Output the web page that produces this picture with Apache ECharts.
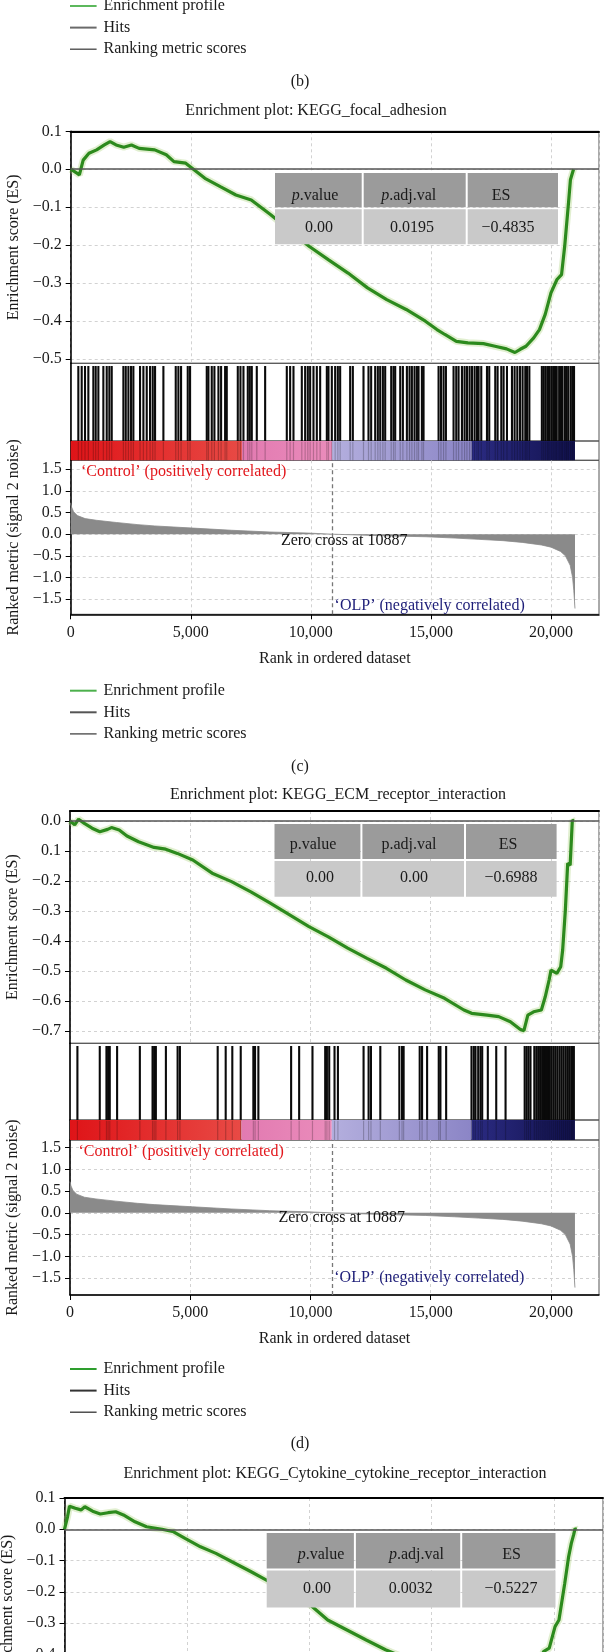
<!DOCTYPE html>
<html><head><meta charset="utf-8">
<script src="https://cdn.jsdelivr.net/npm/echarts@6/dist/echarts.min.js"></script>
<style>html,body{margin:0;padding:0;background:#fff}#c{width:606px;height:1652px}</style>
</head><body><div id="c"></div>
<script>
// ================= DATA =================
const rankTicks = [0, 5000, 10000, 15000, 20000];
const rankTickLabels = ['0', '5,000', '10,000', '15,000', '20,000'];
const metricTicks = [1.5, 1.0, 0.5, 0.0, -0.5, -1.0, -1.5];
const metricTickLabels = ['1.5', '1.0', '0.5', '0.0', '−0.5', '−1.0', '−1.5'];
const esTicksC = [0.1, 0.0, -0.1, -0.2, -0.3, -0.4, -0.5];
const esTickLabelsC = ['0.1', '0.0', '−0.1', '−0.2', '−0.3', '−0.4', '−0.5'];
const esTicksD = [0.0, -0.1, -0.2, -0.3, -0.4, -0.5, -0.6, -0.7];
const esTickLabelsD = ['0.0', '0.1', '−0.2', '−0.3', '−0.4', '−0.5', '−0.6', '−0.7'];
const esTicksE = [0.1, 0.0, -0.1, -0.2, -0.3, -0.4];
const esTickLabelsE = ['0.1', '0.0', '−0.1', '−0.2', '−0.3', '−0.4'];

const titleC = 'Enrichment plot: KEGG_focal_adhesion';
const titleD = 'Enrichment plot: KEGG_ECM_receptor_interaction';
const titleE = 'Enrichment plot: KEGG_Cytokine_cytokine_receptor_interaction';
const legendNames = ['Enrichment profile', 'Hits', 'Ranking metric scores'];
const statsHeaders = ['p.value', 'p.adj.val', 'ES'];
const statsC = ['0.00', '0.0195', '−0.4835'];
const statsD = ['0.00', '0.00', '−0.6988'];
const statsE = ['0.00', '0.0032', '−0.5227'];
const zeroCross = 10887;

// ranked list metric (signal 2 noise), shared by panels
const metricRanks = [0, 40, 120, 275, 600, 1080, 1900, 2800, 3500, 5100, 6700, 8300, 9900, 10887, 12000, 13200, 14800, 16000, 17000, 18000, 18800, 19600, 20000, 20400, 20600, 20800, 20900, 20950, 20980, 21000];
const metricValues = [0.72, 0.62, 0.52, 0.43, 0.36, 0.32, 0.27, 0.22, 0.19, 0.14, 0.09, 0.05, 0.025, 0, -0.02, -0.04, -0.06, -0.09, -0.12, -0.15, -0.19, -0.25, -0.3, -0.4, -0.5, -0.72, -1.0, -1.3, -1.55, -1.72];

// colour bar bands (rank ranges)
const bandStarts = [0, 7130, 10887, 16700];
const bandEnds = [7130, 10887, 16700, 21000];

// panel (c) focal adhesion
const esRanksC = [0, 275, 360, 520, 760, 1080, 1400, 1640, 1890, 2210, 2530, 2850, 3500, 3980, 4300, 4790, 5110, 5590, 6230, 6880, 7520, 8330, 9940, 10740, 11550, 12360, 13160, 13970, 14770, 15250, 15580, 16060, 16540, 17190, 17670, 18150, 18500, 18720, 18960, 19280, 19520, 19760, 20000, 20250, 20440, 20570, 20730, 20810, 20890, 20940];
const esValuesC = [0, -0.011, -0.015, 0.024, 0.042, 0.051, 0.064, 0.073, 0.064, 0.058, 0.064, 0.055, 0.051, 0.038, 0.020, 0.016, 0.0, -0.024, -0.046, -0.068, -0.081, -0.12, -0.204, -0.239, -0.274, -0.313, -0.344, -0.370, -0.401, -0.423, -0.436, -0.454, -0.458, -0.46, -0.467, -0.474, -0.4835, -0.475, -0.467, -0.445, -0.423, -0.383, -0.326, -0.291, -0.278, -0.204, -0.089, -0.028, -0.028, 0.0];
const hitsC = [318, 458, 596, 735, 943, 1041, 1152, 1360, 1500, 1610, 1708, 2194, 2292, 2403, 2513, 2610, 2888, 3027, 3166, 3305, 3416, 3513, 3860, 4374, 4485, 4596, 4874, 4971, 5666, 5735, 5874, 5985, 6152, 6263, 6430, 6499, 6958, 7069, 7194, 7374, 7458, 7541, 7749, 8097, 8999, 9138, 9277, 9624, 9763, 9874, 9971, 10110, 10249, 10388, 10666, 10735, 10874, 11013, 11124, 11221, 11638, 11749, 12193, 12401, 12512, 12680, 12790, 12888, 13000, 13096, 13347, 13443, 13513, 13722, 13833, 14000, 14110, 14208, 14318, 14417, 14485, 14625, 14694, 15319, 15419, 15527, 15625, 15943, 16055, 16152, 16292, 16402, 16500, 16610, 16709, 16819, 16918, 16986, 17097, 17335, 17430, 17680, 17777, 17931, 18027, 18168, 18376, 18485, 18598, 18710, 18818, 18930, 19000, 19100, 19620, 19700, 19780, 19860, 19920, 20010, 20090, 20170, 20240, 20340, 20420, 20480, 20580, 20650, 20720, 20820, 20890, 20960];

// panel (d) ECM receptor interaction
const esRanksD = [0, 195, 356, 597, 919, 1242, 1564, 1725, 2047, 2369, 2852, 3496, 3980, 4463, 5107, 5912, 6718, 7523, 8328, 9134, 9939, 10744, 11549, 12355, 13160, 13965, 14771, 15576, 16381, 16703, 17348, 17831, 18314, 18717, 18878, 19040, 19281, 19603, 19764, 19925, 20005, 20247, 20408, 20489, 20601, 20698, 20800, 20860, 20891, 20950];
const esValuesD = [0, -0.013, 0.006, -0.008, -0.024, -0.036, -0.028, -0.022, -0.03, -0.05, -0.069, -0.088, -0.094, -0.108, -0.13, -0.174, -0.202, -0.236, -0.274, -0.313, -0.352, -0.386, -0.424, -0.458, -0.491, -0.53, -0.563, -0.591, -0.63, -0.641, -0.647, -0.652, -0.669, -0.694, -0.6988, -0.647, -0.636, -0.63, -0.586, -0.53, -0.497, -0.508, -0.486, -0.43, -0.297, -0.141, -0.147, -0.147, 0.003, 0.0];
const hitsD = [308, 1238, 1516, 1585, 1654, 1959, 2905, 3433, 3500, 3571, 3988, 4475, 4571, 6142, 6475, 6750, 7100, 7625, 7696, 7834, 9196, 9530, 10084, 10613, 10684, 10780, 11001, 11142, 12209, 12418, 12517, 12905, 13697, 13809, 13875, 14543, 14642, 14851, 15335, 15405, 15643, 16697, 16793, 16864, 16976, 17072, 17143, 17376, 17726, 18114, 18909, 18989, 19068, 19151, 19310, 19393, 19472, 19551, 19634, 19714, 19793, 19877, 19956, 20035, 20118, 20197, 20276, 20360, 20439, 20518, 20601, 20680, 20759, 20843, 20889, 20955];

// panel (e) cytokine-cytokine receptor interaction (partly visible)
const esRanksE = [0, 124, 204, 440, 675, 831, 1148, 1463, 1777, 2092, 2407, 2880, 3352, 3984, 4456, 4926, 5556, 6187, 6819, 7605, 8232, 10045, 10753, 11540, 12326, 13116, 14500, 16000, 17500, 18700, 19300, 19568, 19804, 20041, 20200, 20436, 20595, 20705, 20799, 20861, 20900];
const esValuesE = [0, 0.04, 0.074, 0.067, 0.062, 0.072, 0.058, 0.049, 0.053, 0.056, 0.046, 0.024, 0.008, 0.0, -0.008, -0.029, -0.056, -0.077, -0.103, -0.135, -0.162, -0.242, -0.29, -0.322, -0.354, -0.385, -0.43, -0.47, -0.5, -0.5227, -0.46, -0.391, -0.38, -0.311, -0.29, -0.173, -0.088, -0.045, -0.018, 0.003, 0.0];

// ================= CHART =================
const FONT = "'Liberation Serif','DejaVu Serif',serif";
const TXT = '#1a1a1a';
const GRIDC = '#d2d2d2';
const zip = (a, b) => a.slice(0, Math.min(a.length, b.length)).map((x, i) => [x, b[i]]);
const lab = (ticks, labels) => v => { for (let i = 0; i < ticks.length; i++) if (Math.abs(v - ticks[i]) < 1e-6) return labels[i]; return ''; };

const LEFT = 70.7, RIGHT = 7;
function mkGrid(top, height, left, right) {
  return { left: left, right: right, top: top, height: height, show: true, borderColor: '#555', borderWidth: 1,
    backgroundColor: 'transparent', containLabel: false, outerBoundsMode: 'none' };
}
const grids = [
  mkGrid(131.3, 232, LEFT, RIGHT),   // 0 c ES
  mkGrid(363.3, 77.7, LEFT, RIGHT),  // 1 c hits
  mkGrid(441, 19.3, LEFT, RIGHT),    // 2 c bar
  mkGrid(460.3, 154, LEFT, RIGHT),   // 3 c ranked
  mkGrid(811, 232.3, 70, RIGHT),     // 4 d ES
  mkGrid(1043.3, 76.7, 70, RIGHT),   // 5 d hits
  mkGrid(1120, 20, 70, RIGHT),       // 6 d bar
  mkGrid(1140, 155, 70, RIGHT),      // 7 d ranked
  mkGrid(1498, 219, 64.5, 3)         // 8 e ES
];

const nameStyle = { fontSize: 16, fontFamily: FONT, color: TXT };
const labStyle = { fontSize: 16, fontFamily: FONT, color: TXT };
const dashed = { show: true, lineStyle: { color: GRIDC, type: [3, 3], width: 1 } };

function xTop(gi) {
  return { type: 'value', gridIndex: gi, min: 0, max: 22000, interval: 5000, position: 'top',
    axisLine: { show: true, onZero: false, lineStyle: { color: '#000', width: 2 } }, axisTick: { show: false }, axisLabel: { show: false }, splitLine: dashed };
}
function xPlain(gi) {
  return { type: 'value', gridIndex: gi, min: 0, max: 22000, interval: 5000,
    axisLine: { show: false, onZero: false }, axisTick: { show: false }, axisLabel: { show: false }, splitLine: { show: false } };
}
function xRank(gi) {
  return { type: 'value', gridIndex: gi, min: 0, max: 22000, interval: 5000, position: 'bottom',
    axisLine: { show: true, onZero: false, lineStyle: { color: '#000', width: 1.5 } },
    axisTick: { show: true, length: 5, customValues: rankTicks, lineStyle: { color: '#000' } },
    axisLabel: Object.assign({ show: true, margin: 10, customValues: rankTicks, formatter: lab(rankTicks, rankTickLabels) }, labStyle),
    splitLine: dashed,
    name: 'Rank in ordered dataset', nameLocation: 'middle', nameGap: 36, nameTextStyle: nameStyle };
}
function yEs(gi, min, max, ticks, labels) {
  return { type: 'value', gridIndex: gi, min: min, max: max, minInterval: 0.1, maxInterval: 0.1,
    axisLine: { show: true, onZero: false, lineStyle: { color: '#000', width: 1.5 } },
    axisTick: { show: true, length: 5, customValues: ticks, lineStyle: { color: '#000' } },
    axisLabel: Object.assign({ show: true, margin: 9, customValues: ticks, formatter: lab(ticks, labels), showMinLabel: true, showMaxLabel: true }, labStyle),
    splitLine: dashed,
    name: 'Enrichment score (ES)', nameLocation: 'middle', nameGap: 48, nameTextStyle: nameStyle };
}
function yPlain(gi) {
  return { type: 'value', gridIndex: gi, min: 0, max: 1,
    axisLine: { show: true, onZero: false, lineStyle: { color: '#000', width: 1.5 } }, axisTick: { show: false }, axisLabel: { show: false }, splitLine: { show: false } };
}
function yRank(gi, min, max) {
  return { type: 'value', gridIndex: gi, min: min, max: max, minInterval: 0.5, maxInterval: 0.5,
    axisLine: { show: true, onZero: false, lineStyle: { color: '#000', width: 1.5 } },
    axisTick: { show: true, length: 5, customValues: metricTicks, lineStyle: { color: '#000' } },
    axisLabel: Object.assign({ show: true, margin: 9, customValues: metricTicks, formatter: lab(metricTicks, metricTickLabels) }, labStyle),
    splitLine: dashed,
    name: 'Ranked metric (signal 2 noise)', nameLocation: 'middle', nameGap: 48, nameTextStyle: nameStyle };
}

const xAxes = [xTop(0), xPlain(1), xPlain(2), xRank(3), xTop(4), xPlain(5), xPlain(6), xRank(7), xTop(8)];
const yAxes = [
  yEs(0, -0.512, 0.1, esTicksC, esTickLabelsC), yPlain(1), yPlain(2), yRank(3, -1.853, 1.708),
  yEs(4, -0.741, 0.0333, esTicksD, esTickLabelsD), yPlain(5), yPlain(6), yRank(7, -1.89, 1.677),
  yEs(8, -0.6, 0.1, esTicksE, esTickLabelsE)
];

const bandFills = [
  new echarts.graphic.LinearGradient(0, 0, 1, 0, [{ offset: 0, color: '#df1418' }, { offset: 1, color: '#e84a45' }]),
  new echarts.graphic.LinearGradient(0, 0, 1, 0, [{ offset: 0, color: '#e27ab1' }, { offset: 1, color: '#ea8cbb' }]),
  new echarts.graphic.LinearGradient(0, 0, 1, 0, [{ offset: 0, color: '#b4afde' }, { offset: 1, color: '#8b85c6' }]),
  new echarts.graphic.LinearGradient(0, 0, 1, 0, [{ offset: 0, color: '#2b2b82' }, { offset: 1, color: '#12124f' }])
];

function esSeries(gi, ranks, vals) {
  const d = zip(ranks, vals);
  return [
    { type: 'line', xAxisIndex: gi, yAxisIndex: gi, data: d, symbol: 'none', silent: true, z: 2,
      lineStyle: { color: 'rgba(170,210,120,0.35)', width: 7 },
      markLine: { silent: true, symbol: 'none', label: { show: false }, lineStyle: { color: '#555', type: 'solid', width: 1.5 }, data: [{ yAxis: 0 }] } },
    { type: 'line', name: 'Enrichment profile', xAxisIndex: gi, yAxisIndex: gi, data: d, symbol: 'none', silent: true, z: 3,
      lineStyle: { color: '#2c8a1d', width: 3.2 } }
  ];
}
function hitRender(color, width) {
  return function (params, api) {
    const x = api.value(0);
    const a = api.coord([x, 0.965]);
    const b = api.coord([x, 0]);
    return { type: 'line', shape: { x1: a[0], y1: a[1], x2: b[0], y2: b[1] }, style: { stroke: color, lineWidth: width } };
  };
}
function hitSeries(gi, hits, color, width, z) {
  return { type: 'custom', name: 'Hits', xAxisIndex: gi, yAxisIndex: gi, data: hits.map(r => [r, 0]), encode: { x: 0, y: 1 },
    renderItem: hitRender(color, width), silent: true, z: z };
}
function barSeries(gi) {
  return { type: 'custom', xAxisIndex: gi, yAxisIndex: gi, data: bandStarts.map((s, i) => [s, bandEnds[i], 0]), encode: { x: [0, 1], y: 2 },
    silent: true, z: 2,
    renderItem: function (params, api) {
      const p0 = api.coord([api.value(0), 1]);
      const p1 = api.coord([api.value(1), 0]);
      return { type: 'rect', shape: { x: p0[0], y: p0[1], width: p1[0] - p0[0], height: p1[1] - p0[1] }, style: { fill: bandFills[params.dataIndex] } };
    } };
}
function rankSeries(gi, ctrl, zc, olp) {
  const lbl = { fontSize: 16, fontFamily: FONT, distance: 0 };
  return { type: 'line', name: 'Ranking metric scores', xAxisIndex: gi, yAxisIndex: gi, data: zip(metricRanks, metricValues), symbol: 'none', silent: true, z: 2,
    lineStyle: { color: '#8a8a8a', width: 0.8 }, areaStyle: { color: '#8a8a8a', opacity: 1 },
    markLine: { silent: true, symbol: 'none', label: { show: false }, lineStyle: { color: '#777', type: [4, 3], width: 1.3 }, data: [{ xAxis: zeroCross }] },
    markPoint: { silent: true, symbol: 'circle', symbolSize: 0,
      data: [
        { coord: ctrl, label: Object.assign({ show: true, position: 'right', formatter: '‘Control’ (positively correlated)', color: '#e3171c' }, lbl) },
        { coord: zc, label: Object.assign({ show: true, position: 'inside', formatter: 'Zero cross at ' + zeroCross, color: '#111' }, lbl) },
        { coord: olp, label: Object.assign({ show: true, position: 'right', formatter: '‘OLP’ (negatively correlated)', color: '#1d1d78' }, lbl) }
      ] } };
}

const series = [].concat(
  esSeries(0, esRanksC, esValuesC),
  [hitSeries(1, hitsC, '#0a0a0a', 2.1, 3), barSeries(2), hitSeries(2, hitsC, 'rgba(0,0,0,0.22)', 1.2, 4),
   rankSeries(3, [430, 1.45], [11390, -0.16], [10990, -1.66])],
  esSeries(4, esRanksD, esValuesD),
  [hitSeries(5, hitsD, '#0a0a0a', 2.1, 3), barSeries(6), hitSeries(6, hitsD, 'rgba(0,0,0,0.22)', 1.2, 4),
   rankSeries(7, [354, 1.41], [11300, -0.12], [10990, -1.5])],
  esSeries(8, esRanksE, esValuesE)
);

// ---------- graphic: titles, legends, stat tables ----------
function textEl(text, x, y, size, align, rich) {
  const st = { text: text, fontSize: size, fontFamily: FONT, font: size + 'px ' + FONT, fill: TXT, align: align, verticalAlign: 'middle', textAlign: align, textVerticalAlign: 'middle' };
  if (rich) st.rich = rich;
  return { type: 'text', z: 100, x: x, y: y, style: st };
}
function legendEls(y0, green, hitCol, rankCol) {
  const cols = [green, hitCol, rankCol];
  const widths = [2, 2, 1.3];
  const els = [];
  legendNames.forEach((n, i) => {
    const y = y0 + i * 21.6;
    els.push({ type: 'line', z: 100, shape: { x1: 70, y1: y, x2: 96.6, y2: y }, style: { stroke: cols[i], lineWidth: widths[i] } });
    els.push(textEl(n, 103.5, y, 16, 'left'));
  });
  return els;
}
function tableEls(edges, top, mid, bottom, hdrX, hdrY, valX, valY, values, italicP) {
  const els = [];
  for (let i = 0; i < 3; i++) {
    const x0 = edges[i] + (i > 0 ? 1 : 0), x1 = edges[i + 1] - (i < 2 ? 1 : 0);
    els.push({ type: 'rect', z: 100, shape: { x: x0, y: top, width: x1 - x0, height: mid - top - 1 }, style: { fill: '#9b9b9b' } });
    els.push({ type: 'rect', z: 100, shape: { x: x0, y: mid + 1, width: x1 - x0, height: bottom - mid - 1 }, style: { fill: '#c9c9c9' } });
  }
  const rich = { i: { fontStyle: 'italic', fontSize: 16, fontFamily: FONT, fill: TXT } };
  statsHeaders.forEach((h, i) => {
    const t = (italicP && h.charAt(0) === 'p') ? '{i|p}' + h.slice(1) : h;
    els.push(textEl(t, hdrX[i], hdrY, 16, 'center', rich));
  });
  values.forEach((v, i) => els.push(textEl(v, valX[i], valY, 16, 'center')));
  return els;
}

const graphics = [].concat(
  legendEls(6, '#5cb85c', '#6a6a6a', '#444'),
  [textEl('(b)', 300, 82, 16, 'center'), textEl(titleC, 316, 111, 16, 'center')],
  tableEls([275, 362.7, 466.7, 558], 173, 208.3, 244.3, [315, 408.7, 501], 196, [319, 412, 508], 228, statsC, true),
  legendEls(690.7, '#4cb04c', '#555', '#444'),
  [textEl('(c)', 300, 767, 16, 'center'), textEl(titleD, 338, 795, 16, 'center')],
  tableEls([274.5, 361.4, 465, 556.6], 824, 860, 896.7, [313, 409, 508], 845, [320, 414, 511], 878, statsD, false),
  legendEls(1369, '#2e9e2e', '#333', '#333'),
  [textEl('(d)', 300, 1444, 16, 'center'), textEl(titleE, 335, 1474, 16, 'center')],
  tableEls([266.7, 354.9, 461.2, 555.5], 1533, 1569.5, 1607.5, [321, 416.5, 511.6], 1555, [317, 410.7, 511], 1589, statsE, true)
);

const chart = echarts.init(document.getElementById('c'), null, { renderer: 'canvas', width: 606, height: 1652 });
chart.setOption({
  animation: false,
  backgroundColor: '#fff',
  textStyle: { fontFamily: FONT },
  grid: grids,
  xAxis: xAxes,
  yAxis: yAxes,
  series: series,
  graphic: graphics
});
</script>
</body></html>
